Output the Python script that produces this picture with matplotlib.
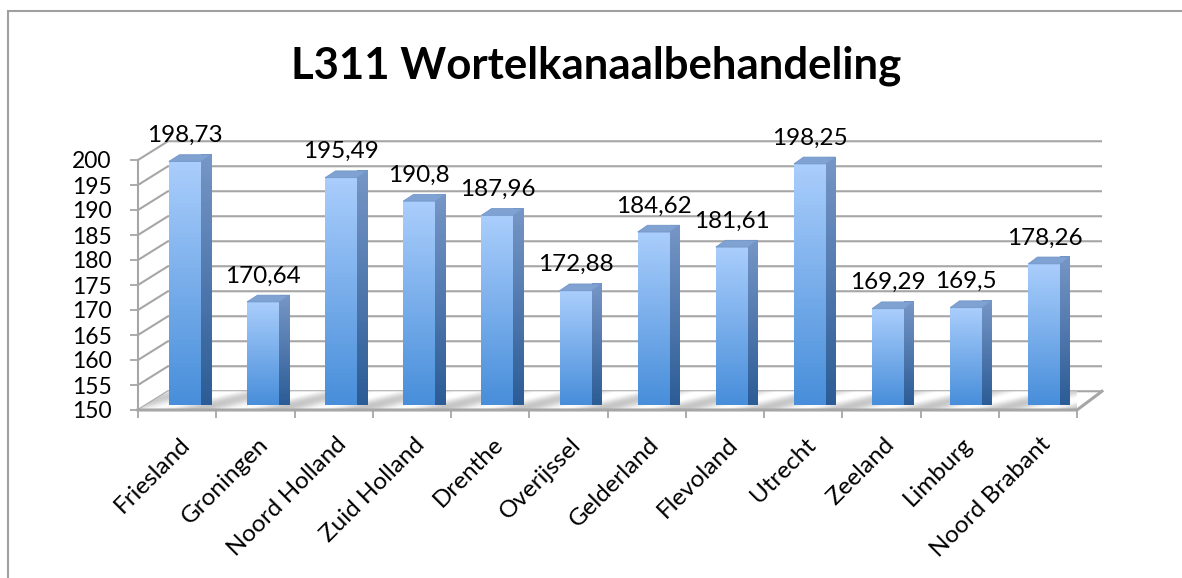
import numpy as np
import matplotlib.pyplot as plt
from matplotlib.patches import Polygon, Rectangle
from matplotlib.transforms import ScaledTranslation

provinces = ['Friesland', 'Groningen', 'Noord Holland', 'Zuid Holland', 'Drenthe',
             'Overijssel', 'Gelderland', 'Flevoland', 'Utrecht', 'Zeeland',
             'Limburg', 'Noord Brabant']
values = [198.73, 170.64, 195.49, 190.8, 187.96, 172.88, 184.62, 181.61,
          198.25, 169.29, 169.5, 178.26]
yticks = [150, 155, 160, 165, 170, 175, 180, 185, 190, 195, 200]
title = 'L311 Wortelkanaalbehandeling'

plt.rcParams['font.family'] = ['Lato', 'DejaVu Sans']

W, H = 1182, 578
GRID = '#a6a6a6'
n = len(provinces)
ymin, ymax = yticks[0], yticks[-1]
DEPTH_Y = 3.75  # value units the back wall is raised by


def depth_dx(x):
    # slight perspective: the depth offset shrinks to the right
    return 0.383 - 0.0053 * x


def shift(x, y, t):
    return x + t * depth_dx(x), y + t * DEPTH_Y


def vgrad(bottom, top, steps=64):
    bottom = np.array(bottom) / 255
    top = np.array(top) / 255
    f = np.linspace(0, 1, steps)[:, None, None]
    return bottom + (top - bottom) * f


fig = plt.figure(figsize=(W / 100, H / 100), dpi=100)
ax = fig.add_axes([138 / W, (H - 410) / H, 939 / W, 250 / H])

# back wall + left wall grid lines
for v in yticks:
    bx0, by = shift(0, v, 1)
    bx1, _ = shift(n, v, 1)
    ax.plot([0, bx0, bx1], [v, by, by], color=GRID, lw=1.5, clip_on=False,
            zorder=1, solid_capstyle='butt')

# floor
floor_pts = [shift(0, ymin, 0), shift(n, ymin, 0), shift(n, ymin, 1), shift(0, ymin, 1)]
floor = Polygon(floor_pts, closed=True, fc='none', ec='none', transform=ax.transData)
ax.add_patch(floor)
u = np.linspace(0, 1, 600)[None, :]
d = np.linspace(0, 1, 40)[:, None]
tex = 0.87 + 0.11 * np.cos(2 * np.pi * (u * n - d * 0.9 - 0.2)) + 0.05 * d
tex = np.clip(tex, 0, 1)
fx_max = max(p[0] for p in floor_pts)
fy_max = max(p[1] for p in floor_pts)
im = ax.imshow(tex, extent=[0, fx_max, ymin, fy_max], origin='lower', cmap='gray',
               vmin=0, vmax=1, aspect='auto', zorder=2, clip_on=True)
im.set_clip_path(floor)
ax.plot([0, n, floor_pts[2][0]], [ymin, ymin, floor_pts[2][1]], color=GRID, lw=2.2,
        clip_on=False, zorder=2.5)

# bars
half_w = 0.205
t_front, t_back = 0.26, 0.62
front_img = vgrad((72, 142, 218), (170, 206, 252))
side_img = vgrad((44, 92, 150), (118, 150, 198))
for i, (v, name) in enumerate(zip(values, provinces)):
    c = i + 0.5
    cx, y0 = shift(c, ymin, t_front)
    _, y1 = shift(c, v, t_front)
    x0, x1 = cx - half_w, cx + half_w
    ddx = (t_back - t_front) * depth_dx(c)
    ddy = (t_back - t_front) * DEPTH_Y
    z = 3 + i * 0.01

    ax.imshow(front_img, extent=[x0, x1, y0, y1], origin='lower', aspect='auto',
              zorder=z, clip_on=False)

    side = Polygon([(x1, y0), (x1 + ddx, y0 + ddy), (x1 + ddx, y1 + ddy), (x1, y1)],
                   closed=True, fc='none', ec='none')
    ax.add_patch(side)
    sim = ax.imshow(side_img, extent=[x1, x1 + ddx, y0, y1 + ddy], origin='lower',
                    aspect='auto', zorder=z, clip_on=False)
    sim.set_clip_path(side)

    top = Polygon([(x0, y1), (x1, y1), (x1 + ddx, y1 + ddy), (x0 + ddx, y1 + ddy)],
                  closed=True, fc='#7fa2d2', ec='#7397c9', lw=0.6, zorder=z, clip_on=False)
    ax.add_patch(top)

    ax.annotate(str(v).replace('.', ','), (cx, y1), xytext=(0, 14),
                textcoords='offset points', ha='center', va='baseline',
                fontsize=17.5, zorder=5, annotation_clip=False)

ax.set_xlim(0, n)
ax.set_ylim(ymin, ymax)
ax.patch.set_visible(False)
for s in ['top', 'right', 'bottom']:
    ax.spines[s].set_visible(False)
ax.spines['left'].set_color(GRID)
ax.spines['left'].set_linewidth(1.5)

ax.set_yticks(yticks)
ax.tick_params(axis='y', length=6, width=1.3, color=GRID, pad=13, labelsize=16.5)

ax.set_xticks(np.arange(n + 1), minor=True)
ax.set_xticks(np.arange(n) + 0.5, provinces, rotation=45, ha='right',
              rotation_mode='anchor')
ax.tick_params(axis='x', which='minor', length=5.5, width=1.3, color=GRID)
ax.tick_params(axis='x', which='major', length=0, pad=17, labelsize=17.5)
for lbl in ax.get_xticklabels():
    lbl.set_transform(lbl.get_transform() + ScaledTranslation(2 / 100, 0, fig.dpi_scale_trans))

fig.text(596 / W, 1 - 79 / H, title, ha='center', va='baseline', fontsize=31.5,
         fontweight='bold')

fig.add_artist(Rectangle((8 / W, -0.5), 2, 1 - 11 / H + 0.5, transform=fig.transFigure,
                         fill=False, ec='#a0a0a0', lw=1.5))

fig.savefig('out.png', dpi=100, facecolor='white')
